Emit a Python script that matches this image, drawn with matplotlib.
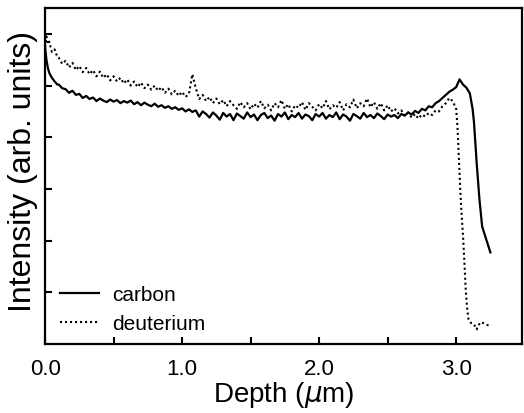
import numpy as np
import matplotlib.pyplot as plt
from matplotlib.ticker import MultipleLocator

plt.rcParams['font.family'] = ['Liberation Sans', 'DejaVu Sans']

# carbon profile (arb. units)
carbon_head_x = [0.0, 0.01, 0.02, 0.03, 0.05, 0.07, 0.09]
carbon_head_y = [5.75, 5.50, 5.35, 5.25, 5.15, 5.08, 5.02]
carbon_body_y = [
    5.02, 4.95, 4.93, 4.86, 4.90, 4.82, 4.84, 4.76, 4.80, 4.74,
    4.77, 4.70, 4.75, 4.71, 4.68, 4.73, 4.69, 4.72, 4.66, 4.70,
    4.67, 4.71, 4.64, 4.68, 4.62, 4.67, 4.63, 4.60, 4.65, 4.59,
    4.62, 4.57, 4.60, 4.55, 4.58, 4.53, 4.56, 4.50, 4.54, 4.49,
    4.52, 4.40, 4.50, 4.45, 4.38, 4.48, 4.42, 4.34, 4.47, 4.40,
    4.45, 4.33, 4.46, 4.41, 4.36, 4.48, 4.39, 4.44, 4.33, 4.43,
    4.47, 4.37, 4.42, 4.32, 4.45, 4.40, 4.48, 4.35, 4.43, 4.39,
    4.47, 4.36, 4.44, 4.41, 4.33, 4.45, 4.40, 4.47, 4.36, 4.43,
    4.39, 4.48, 4.35, 4.44, 4.40, 4.32, 4.45, 4.41, 4.36, 4.47,
    4.39, 4.43, 4.37, 4.46, 4.41, 4.35, 4.44, 4.40, 4.43, 4.37,
    4.45, 4.42, 4.48, 4.44, 4.51, 4.47, 4.55, 4.52, 4.60, 4.58,
    4.66, 4.70, 4.76, 4.82, 4.88, 4.92, 4.97, 5.12, 5.02, 4.96,
]
carbon_tail_x = [3.10, 3.12, 3.13, 3.15, 3.17, 3.19, 3.22, 3.25]
carbon_tail_y = [4.85, 4.55, 4.30, 3.50, 2.80, 2.27, 2.02, 1.77]

# deuterium profile (arb. units)
deut_head_x = [0.0, 0.01, 0.02, 0.03, 0.05, 0.07, 0.09]
deut_head_y = [5.75, 5.95, 5.80, 5.85, 5.65, 5.70, 5.55]
deut_body_y = [
    5.54, 5.42, 5.48, 5.35, 5.44, 5.30, 5.38, 5.26, 5.34, 5.22,
    5.30, 5.18, 5.27, 5.15, 5.22, 5.10, 5.18, 5.08, 5.15, 5.04,
    5.12, 5.00, 5.08, 4.97, 5.06, 4.95, 5.02, 4.92, 5.00, 4.90,
    4.97, 4.86, 4.94, 4.83, 4.90, 4.80, 4.88, 4.78, 4.84, 5.22,
    4.95, 4.74, 4.82, 4.70, 4.78, 4.66, 4.75, 4.64, 4.72, 4.60,
    4.70, 4.62, 4.55, 4.68, 4.58, 4.66, 4.54, 4.65, 4.57, 4.70,
    4.56, 4.63, 4.52, 4.66, 4.58, 4.72, 4.55, 4.64, 4.50, 4.62,
    4.57, 4.68, 4.53, 4.66, 4.59, 4.52, 4.64, 4.56, 4.70, 4.54,
    4.62, 4.57, 4.68, 4.52, 4.64, 4.58, 4.73, 4.56, 4.66, 4.60,
    4.75, 4.58, 4.68, 4.55, 4.66, 4.52, 4.62, 4.50, 4.56, 4.46,
    4.52, 4.42, 4.48, 4.38, 4.45, 4.36, 4.44, 4.40, 4.47, 4.43,
    4.52, 4.50, 4.60, 4.66, 4.76, 4.70,
]
deut_tail_x = [3.00, 3.01, 3.02, 3.03, 3.04, 3.05, 3.06, 3.07, 3.08, 3.09,
               3.11, 3.13, 3.15, 3.16, 3.18, 3.20, 3.22, 3.25]
deut_tail_y = [4.55, 4.20, 3.60, 3.00, 2.50, 2.10, 1.60, 1.05, 0.70, 0.48,
               0.40, 0.38, 0.28, 0.35, 0.42, 0.40, 0.37, 0.35]

x_ticks = [0.0, 1.0, 2.0, 3.0]
x_labels = ['0.0', '1.0', '2.0', '3.0']

carbon_x = np.concatenate([carbon_head_x,
                           np.linspace(0.1, 3.075, len(carbon_body_y)),
                           carbon_tail_x])
carbon_y = np.concatenate([carbon_head_y, carbon_body_y, carbon_tail_y])
deut_x = np.concatenate([deut_head_x,
                         np.linspace(0.1, 2.975, len(deut_body_y)),
                         deut_tail_x])
deut_y = np.concatenate([deut_head_y, deut_body_y, deut_tail_y])

fig = plt.figure(figsize=(5.24, 4.14), dpi=100)
ax = fig.add_axes([0.086, 0.167, 0.91, 0.811])

ax.plot(carbon_x, carbon_y, color='black', lw=1.6, label='carbon')
ax.plot(deut_x, deut_y, color='black', lw=1.5, linestyle=(0, (1, 1.4)),
        label='deuterium')

ax.set_xlim(0, 3.48)
ax.set_ylim(0, 6.5)
ax.set_xticks(x_ticks)
ax.set_xticklabels(x_labels)
ax.xaxis.set_minor_locator(MultipleLocator(0.5))
ax.set_yticks([1, 2, 3, 4, 5, 6])
ax.set_yticklabels([])

ax.tick_params(which='both', direction='in', length=5, width=1.5,
               top=False, right=False, labelsize=16, pad=10)
for sp in ax.spines.values():
    sp.set_linewidth(1.6)

ax.set_xlabel(r'Depth ($\mu$m)', fontsize=20, labelpad=0)
ax.set_ylabel('Intensity (arb. units)', fontsize=23)
ax.yaxis.set_label_coords(-0.015, 0.515)

ax.legend(loc='lower left', frameon=False, fontsize=15, handlelength=1.9,
          handletextpad=0.6, labelspacing=0.5, borderaxespad=0.3,
          bbox_to_anchor=(0.0, -0.012))

fig.savefig('out.png', dpi=100)
